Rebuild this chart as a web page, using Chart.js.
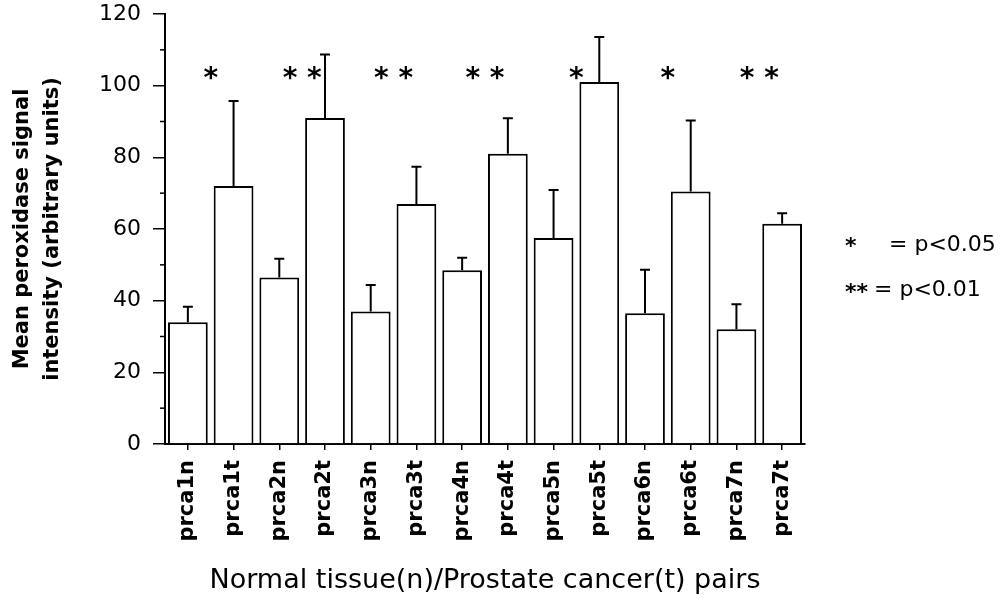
<!DOCTYPE html>
<html>
<head>
<meta charset="utf-8">
<script src="https://cdn.jsdelivr.net/npm/chart.js@4"></script>
<style>
  html, body { margin: 0; padding: 0; background: #fff; }
  #wrap { width: 1008px; height: 607px; }
</style>
</head>
<body>
<div id="wrap"><canvas id="peroxChart"></canvas></div>
<script>
// values
const labels = ['prca1n', 'prca1t', 'prca2n', 'prca2t', 'prca3n', 'prca3t', 'prca4n',
                'prca4t', 'prca5n', 'prca5t', 'prca6n', 'prca6t', 'prca7n', 'prca7t'];
const means = [34, 72, 46.5, 91, 37, 67, 48.5, 81, 57.5, 101, 36.5, 70.5, 32, 61.5];
const errors = [4.3, 23.7, 5.2, 17.7, 7.4, 10.4, 3.5, 9.9, 13.4, 12.6, 12.1, 19.8, 7, 2.9];
const pairStars = ['*', '**', '**', '**', '*', '*', '**'];
const starLevel = 102.5;
const legendLines = [['*', '= p<0.05'], ['**', '= p<0.01']];

const FONT = "'DejaVu Sans', sans-serif";

// error bars, significance stars, minor ticks, key text
const extrasPlugin = {
    id: 'extras',
    afterDatasetsDraw(chart) {
        const ctx = chart.ctx;
        const x = chart.scales.x;
        const y = chart.scales.y;
        const meta = chart.getDatasetMeta(0);

        ctx.save();
        ctx.strokeStyle = '#000';
        ctx.lineWidth = 2;
        meta.data.forEach((bar, i) => {
            const top = y.getPixelForValue(means[i] + errors[i]);
            ctx.beginPath();
            ctx.moveTo(bar.x, bar.y);
            ctx.lineTo(bar.x, top);
            ctx.moveTo(bar.x - 5, top);
            ctx.lineTo(bar.x + 5, top);
            ctx.stroke();
        });

        // minor ticks on the y axis
        ctx.lineWidth = 1.5;
        for (let v = 10; v < 120; v += 20) {
            const py = y.getPixelForValue(v);
            ctx.beginPath();
            ctx.moveTo(x.left - 5, py);
            ctx.lineTo(x.left, py);
            ctx.stroke();
        }

        // stars between each n/t pair
        ctx.fillStyle = '#000';
        ctx.font = 'bold 28px ' + FONT;
        ctx.textAlign = 'center';
        ctx.textBaseline = 'middle';
        pairStars.forEach((s, k) => {
            const px = (x.getPixelForValue(2 * k) + x.getPixelForValue(2 * k + 1)) / 2;
            ctx.fillText(s.split('').join(' '), px, y.getPixelForValue(starLevel) + 3);
        });

        // key on the right
        ctx.textAlign = 'left';
        ctx.font = 'bold 22px ' + FONT;
        ctx.fillText(legendLines[0][0], 845, 247);
        ctx.fillText(legendLines[1][0], 845, 293);
        ctx.font = '22px ' + FONT;
        ctx.fillText(legendLines[0][1], 889, 245);
        ctx.fillText(legendLines[1][1], 874, 290);
        ctx.restore();
    }
};

const ctx = document.getElementById('peroxChart').getContext('2d');
const peroxChart = new Chart(ctx, {
    type: 'bar',
    data: {
        labels: labels,
        datasets: [{
            data: means,
            backgroundColor: '#fff',
            borderColor: '#000',
            borderWidth: 2,
            categoryPercentage: 1,
            barPercentage: 0.87
        }]
    },
    options: {
        responsive: true,
        maintainAspectRatio: false,
        animation: false,
        layout: {
            padding: { left: 8, right: 203, top: 14, bottom: 10 }
        },
        plugins: {
            legend: { display: false },
            tooltip: { enabled: false }
        },
        scales: {
            x: {
                grid: {
                    drawOnChartArea: false,
                    offset: false,
                    tickLength: 6,
                    color: '#000',
                    lineWidth: 1.5
                },
                border: { color: '#000', width: 2 },
                ticks: {
                    minRotation: 90,
                    maxRotation: 90,
                    color: '#000',
                    padding: 10,
                    font: { family: FONT, size: 21, weight: 'bold' }
                },
                title: {
                    display: true,
                    text: 'Normal tissue(n)/Prostate cancer(t) pairs',
                    color: '#000',
                    padding: { top: 12, bottom: 0 },
                    font: { family: FONT, size: 27 }
                },
                afterFit(scale) {
                    scale.height = 607 - 444 - 10;
                    scale.paddingLeft = 0;
                    scale.paddingRight = 0;
                }
            },
            y: {
                min: 0,
                max: 120,
                grid: {
                    drawOnChartArea: false,
                    tickLength: 12,
                    color: '#000',
                    lineWidth: 1.5
                },
                border: { color: '#000', width: 2 },
                ticks: {
                    stepSize: 20,
                    color: '#000',
                    padding: 12,
                    font: { family: FONT, size: 22 }
                },
                title: {
                    display: true,
                    text: ['Mean peroxidase signal', 'intensity (arbitrary units)'],
                    color: '#000',
                    padding: { top: 0, bottom: 6 },
                    font: { family: FONT, size: 21, weight: 'bold', lineHeight: 1.4 }
                },
                afterFit(scale) {
                    scale.width = 165 - 8;
                    scale.paddingTop = 0;
                    scale.paddingBottom = 0;
                }
            }
        }
    },
    plugins: [extrasPlugin]
});
</script>
</body>
</html>
